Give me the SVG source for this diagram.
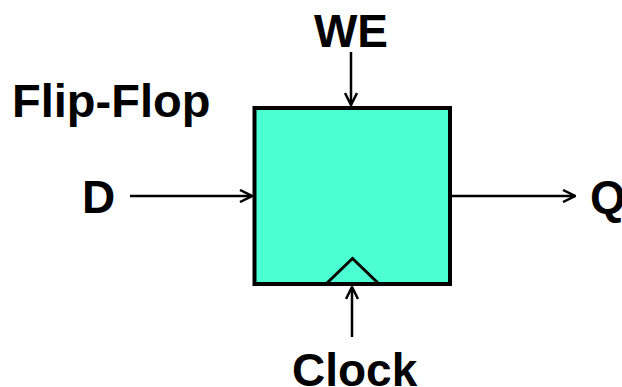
<svg xmlns="http://www.w3.org/2000/svg" width="622" height="387" viewBox="0 0 622 387">
<defs>
<style>
.lbl{font-family:"Liberation Sans",Arial,sans-serif;font-weight:bold;font-size:46px;fill:#000}
.wire{stroke:#000;stroke-width:2.5;fill:none}
</style>
<marker id="arr" viewBox="0 0 14 14" refX="13" refY="7" markerWidth="14" markerHeight="14" markerUnits="userSpaceOnUse" orient="auto">
<path d="M1,1 L13,7 L1,13" fill="none" stroke="#000" stroke-width="2.5"/>
</marker>
</defs>
<rect width="622" height="387" fill="#fff"/>
<text class="lbl" x="12" y="117" style="font-size:47px">Flip-Flop</text>
<g id="ff">
<rect x="254.5" y="108" width="195.5" height="176" fill="#4CFFD2" stroke="#000" stroke-width="4"/>
<path d="M327,283 L352.5,258.5 L378,283" fill="none" stroke="#000" stroke-width="3"/>
</g>
<g id="we"><text class="lbl" x="351" y="47" text-anchor="middle">WE</text></g>
<g id="d"><text class="lbl" x="82" y="213">D</text></g>
<g id="q"><text class="lbl" x="590" y="213">Q</text></g>
<g id="clock"><text class="lbl" x="292" y="386">Clock</text></g>
<g id="connectors">
<line class="wire" x1="351" y1="52" x2="351" y2="105" marker-end="url(#arr)"/>
<line class="wire" x1="130" y1="196" x2="252" y2="196" marker-end="url(#arr)"/>
<line class="wire" x1="452" y1="196" x2="575" y2="196" marker-end="url(#arr)"/>
<line class="wire" x1="352" y1="337" x2="352" y2="287" marker-end="url(#arr)"/>
</g>
</svg>
